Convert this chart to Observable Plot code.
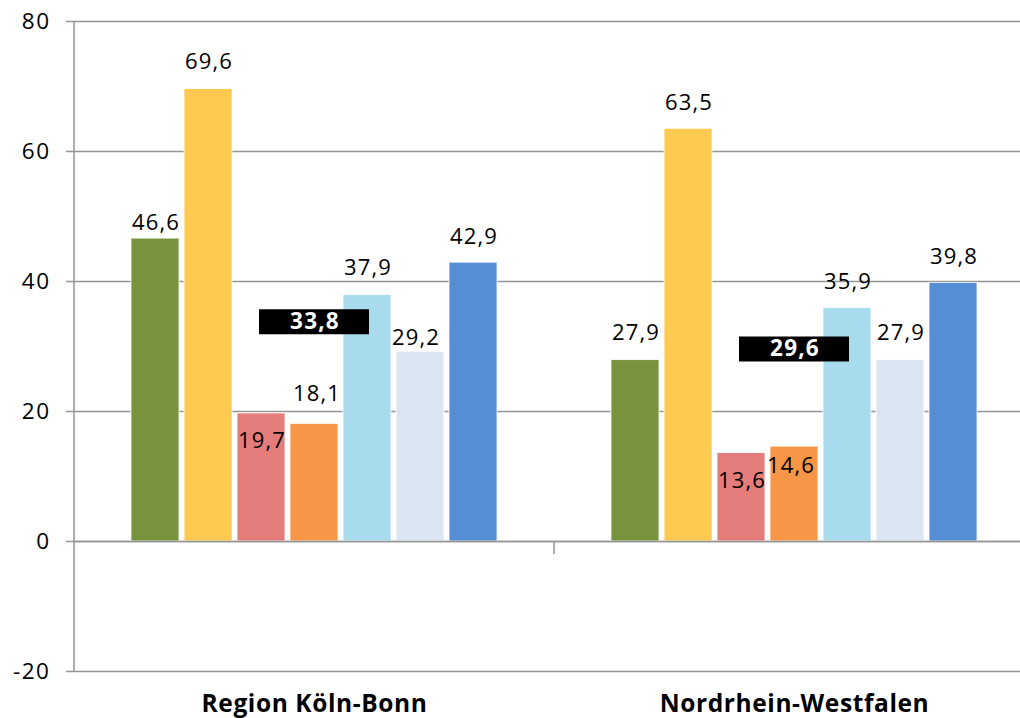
<!DOCTYPE html>
<html><head><meta charset="utf-8">
<script src="https://cdn.jsdelivr.net/npm/d3@7"></script>
<script src="https://cdn.jsdelivr.net/npm/@observablehq/plot@0.6"></script>
<style>
body{margin:0;background:#fff;}
#chart{width:1020px;height:718px;overflow:hidden;}
#chart .vlabel text, #chart text.vlabel, #chart .vlabel{letter-spacing:1.2px;}
#chart .ylab text, #chart .ylab{letter-spacing:1.5px;}
#chart .fxlab text, #chart .fxlab{letter-spacing:0.6px;}
</style></head><body><div id="chart"></div>
<script>
const regions = ["Region Köln-Bonn", "Nordrhein-Westfalen"];
const series = ["Reihe 1","Reihe 2","Reihe 3","Reihe 4","Reihe 5","Reihe 6","Reihe 7"];
const valuesKoelnBonn = [46.6, 69.6, 19.7, 18.1, 37.9, 29.2, 42.9];
const valuesNRW = [27.9, 63.5, 13.6, 14.6, 35.9, 27.9, 39.8];
const averages = [33.8, 29.6];
const yTicks = [-20, 0, 20, 40, 60, 80];
const colors = ["#77933c","#fec94f","#e57c7c","#f79646","#a9dbee","#dce6f2","#558ed5"];
// label nudges in pixels (layout only)
const labelDy = [[-16,-27,28,-30,-27,-14,-26],[-27,-26,28,19,-26,-27,-26]];
const labelDx = [[0,0,0,2,0,-5,0],[0,0,0,-4,0,0,0]];

const data = regions.flatMap((r,i)=> (i===0?valuesKoelnBonn:valuesNRW).map((v,j)=>({region:r, series:series[j], value:v, i, j})));
const avgData = regions.map((r,i)=>({region:r, series: series[3], value: averages[i]}));
const fmt = v => v.toFixed(1).replace(".", ",");
const font = "'Open Sans', sans-serif";

const plot = Plot.plot({
  width: 1034, height: 718,
  marginLeft: 74, marginRight: 0, marginTop: 21, marginBottom: 47,
  style: {fontFamily: font, background: "#fff", maxWidth: "none", color: "#000"},
  fx: {domain: regions, padding: 0, label: null},
  x: {domain: series, paddingInner: 0.092, paddingOuter: 1.04, axis: null},
  y: {domain: [-20, 80], label: null},
  color: {domain: series, range: colors},
  marks: [
    Plot.gridY(yTicks, {stroke: "#959595", strokeOpacity: 1, strokeWidth: 1.5}),
    Plot.axisY(yTicks, {tickSize: 8, tickPadding: 16, fontSize: 22.5, stroke: "#959595", strokeWidth: 1.5, fill: "#000", label: null, tickFormat: d => String(d), className: "ylab"}),
    Plot.axisFx({anchor: "bottom", tickSize: 0, tickPadding: 23, fontSize: 24.5, fontWeight: "bold", label: null, className: "fxlab"}),
    Plot.barY(data, {fx: "region", x: "series", y: "value", fill: "series", stroke: "#fff", strokeWidth: 0.8}),
    Plot.ruleY([0], {stroke: "#959595", strokeWidth: 1.5}),
    ...data.map(d => Plot.text([d], {fx: "region", x: "series", y: "value", text: d => fmt(d.value),
      dy: labelDy[d.i][d.j], dx: labelDx[d.i][d.j] + 0.5, fontSize: 22, fill: "#000", className: "vlabel"})),
    Plot.tickY(avgData, {fx: "region", x: "series", y: "value", stroke: "#000", strokeWidth: 25, insetLeft: -31, insetRight: -31}),
    Plot.text(avgData, {fx: "region", x: "series", y: "value", dx: 0.5, text: d => fmt(d.value), fill: "#fff", fontWeight: "bold", fontSize: 22.5, className: "vlabel"})
  ]
});

// axis chrome: vertical y-axis line and category separator tick
const y = plot.scale("y"), fx = plot.scale("fx");
const svg = d3.select(plot);
const x0 = fx.apply(regions[0]);
svg.append("line").attr("x1", x0).attr("x2", x0).attr("y1", y.apply(80)).attr("y2", y.apply(-20))
  .attr("stroke", "#959595").attr("stroke-width", 1.5);
const xs = fx.apply(regions[1]);
svg.append("line").attr("x1", xs).attr("x2", xs).attr("y1", y.apply(0)).attr("y2", y.apply(0) + 13)
  .attr("stroke", "#959595").attr("stroke-width", 1.5);

document.getElementById("chart").append(plot);
</script></body></html>
